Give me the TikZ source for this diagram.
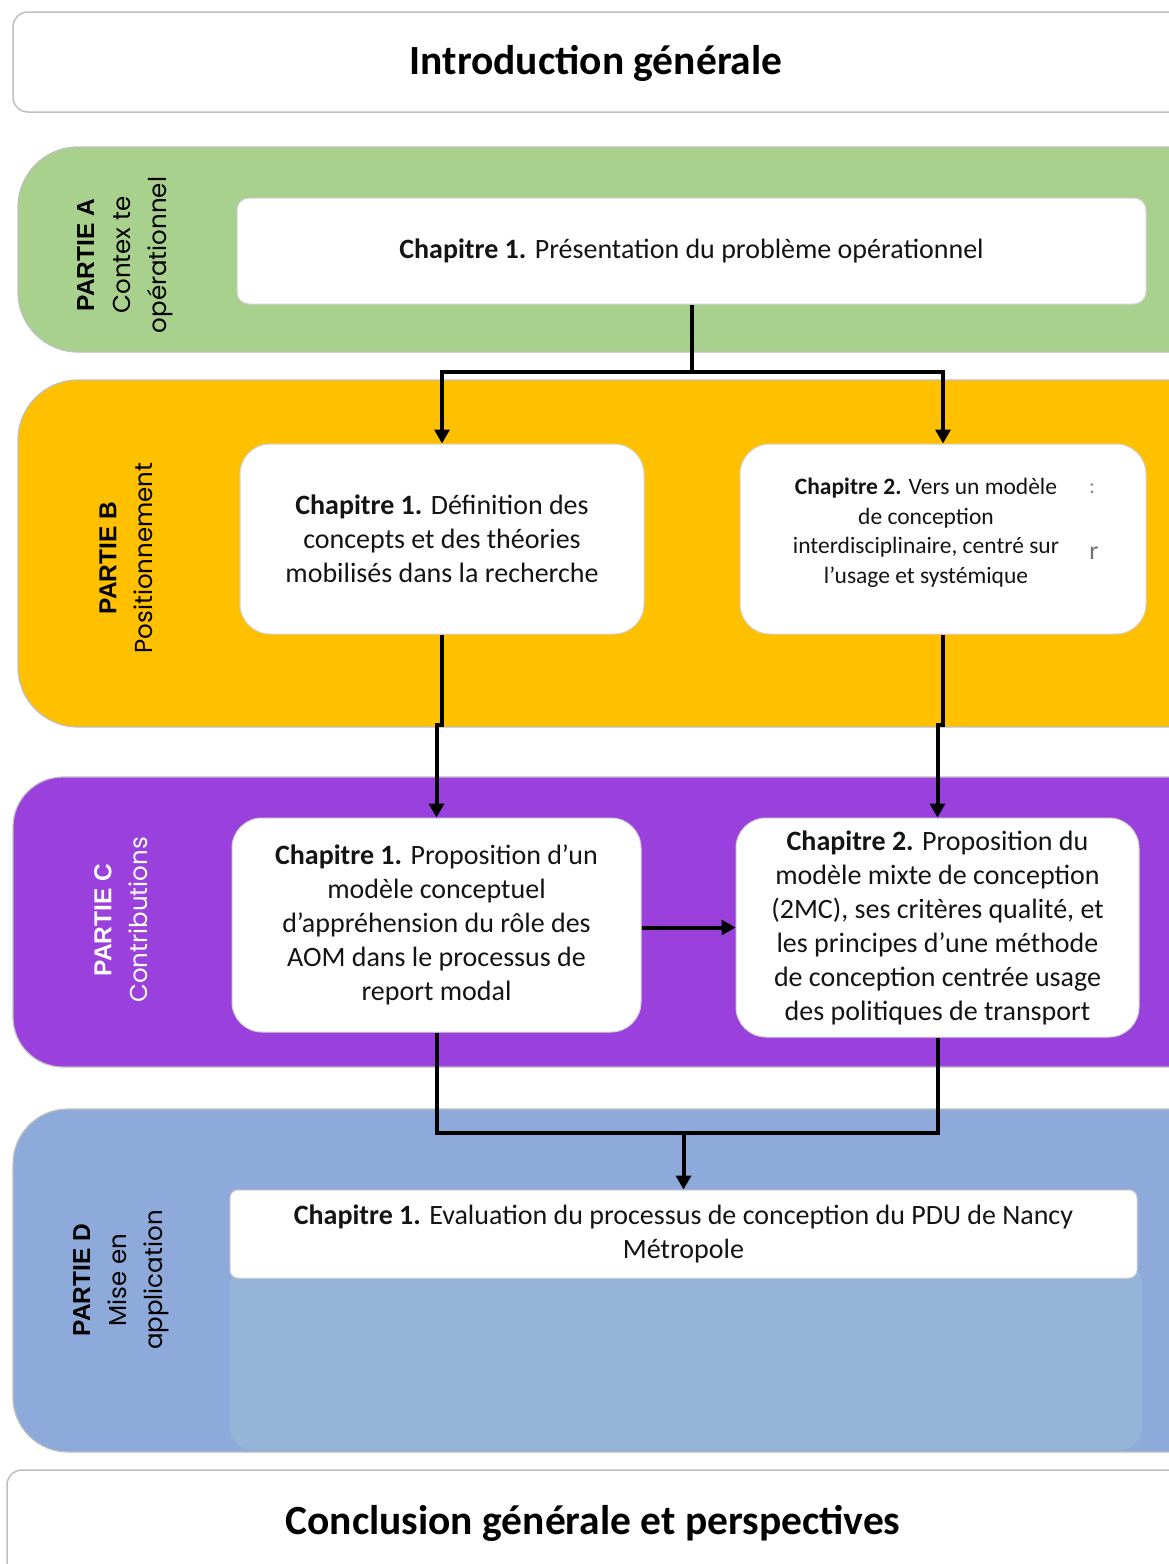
\documentclass[tikz,border=0pt]{standalone}
\usepackage{fontspec}
\setmainfont{Carlito}
\newfontfamily\partfont{Liberation Sans}
\newfontfamily\subfont{Poppins}
\usetikzlibrary{arrows.meta}
\definecolor{gA}{HTML}{A9D18E}
\definecolor{oB}{HTML}{FFC000}
\definecolor{pC}{HTML}{9A40DD}
\definecolor{bD}{HTML}{8EAADB}
\definecolor{bDl}{HTML}{96B3D8}
\definecolor{bord}{HTML}{BFBFBF}
\definecolor{txt}{HTML}{141414}
\begin{document}
\begin{tikzpicture}[x=1pt,y=-1pt,
  band/.style={draw=bord, line width=1.2pt},
  chbox/.style={draw=bord!70, line width=1pt, fill=white, rounded corners=#1, inner sep=0pt},
  chbox/.default=30pt,
  chtext/.style={font=\fontsize{28}{34}\selectfont, align=center, text=txt},
  partlbl/.style={rotate=90, align=center, font=\fontsize{24.5}{36}\selectfont},
  conn/.style={line width=4pt, line join=miter, draw=black},
  arr/.style={conn, -{Triangle[length=14pt,width=15pt]}},
  title/.style={font=\fontsize{41.5}{46}\selectfont\bfseries, text=black},
]
\useasboundingbox (0,0) rectangle (1169,1564);
\clip (0,0) rectangle (1169,1564);
\fill[white] (0,0) rectangle (1169,1564);

% Introduction
\draw[draw=bord, line width=1.5pt, rounded corners=15pt] (13,12) rectangle (1260,112);
\node[title] (intro) at (596,63) {Introduction générale};

% Bands
\draw[band, fill=gA, rounded corners=60pt] (18,147) rectangle (1260,352);
\draw[band, fill=oB, rounded corners=60pt] (18,380) rectangle (1260,727);
\draw[band, fill=pC, rounded corners=50pt] (13,777) rectangle (1260,1067);
\draw[band, fill=bD, rounded corners=55pt] (13,1109) rectangle (1260,1452);

% Part labels
\node[partlbl] (pa) at (125,255) {{\partfont\bfseries PARTIE A}\\{\subfont Contex te}\\{\subfont opérationnel}};
\node[partlbl] (pb) at (126,558) {{\partfont\bfseries PARTIE B}\\{\subfont Positionnement}};
\node[partlbl, text=white] (pc) at (121,920) {{\partfont\bfseries PARTIE C}\\{\subfont Contributions}};
\node[partlbl] (pd) at (121,1280) {{\partfont\bfseries PARTIE D}\\{\subfont Mise en}\\{\subfont application}};

% Chapter boxes
\node[chbox=12pt, minimum width=909pt, minimum height=106pt, chtext] (a1) at (691.5,251)
  {\textbf{Chapitre 1.} Présentation du problème opérationnel};
\node[chbox, minimum width=404pt, minimum height=190pt, chtext] (b1) at (442,539)
  {\textbf{Chapitre 1.} Définition des\\concepts et des théories\\mobilisés dans la recherche};
\node[chbox, minimum width=406pt, minimum height=190pt] (b2) at (943,539) {};
\node[font=\fontsize{23.5}{29.5}\selectfont, align=center, text=txt] (b2t) at (926,533)
  {\textbf{Chapitre 2.} Vers un modèle\\de conception\\interdisciplinaire, centré sur\\l’usage et systémique};
\node[font=\fontsize{22}{22}\selectfont, text=black!45] (b2s1) at (1092,489) {:};
\node[font=\fontsize{26}{26}\selectfont, text=black!55] (b2s2) at (1094,553) {r};
\node[chbox, minimum width=409pt, minimum height=214pt, chtext] (c1) at (436.5,925)
  {\textbf{Chapitre 1.} Proposition d’un\\modèle conceptuel\\d’appréhension du rôle des\\AOM dans le processus de\\report modal};
\node[chbox, minimum width=403pt, minimum height=219pt, chtext] (c2) at (937.5,927.5)
  {\textbf{Chapitre 2.} Proposition du\\modèle mixte de conception\\(2MC), ses critères qualité, et\\les principes d’une méthode\\de conception centrée usage\\des politiques de transport};
\fill[bDl, rounded corners=22pt] (230,1262) rectangle (1142,1450);
\node[chbox=8pt, minimum width=907pt, minimum height=88pt, chtext] (d1) at (683.5,1234)
  {\textbf{Chapitre 1.} Evaluation du processus de conception du PDU de Nancy\\Métropole};

% Connectors
\draw[conn] (a1.south) -- (a1.south |- 0,372) coordinate (asplit);
\draw[arr] (asplit) -| (b1.north);
\draw[arr] (asplit) -| (b2.north);
\draw[arr] (b1.south) -- (b1.south |- 0,725) -| (c1.north);
\draw[arr] (b2.south) -- (b2.south |- 0,725) -| (c2.north);
\draw[arr] (c2.west -| c1.east) -- (c2.west);
\draw[conn] (c1.south) |- (c2.south |- 0,1133) -- (c2.south);
\coordinate (dj) at (d1.north |- 0,1133);
\draw[arr] (dj) -- (d1.north);

% Conclusion
\draw[draw=bord, line width=1.5pt, rounded corners=15pt] (7,1470) rectangle (1260,1620);
\node[title] (concl) at (593,1523) {Conclusion générale et perspectives};
\end{tikzpicture}
\end{document}
